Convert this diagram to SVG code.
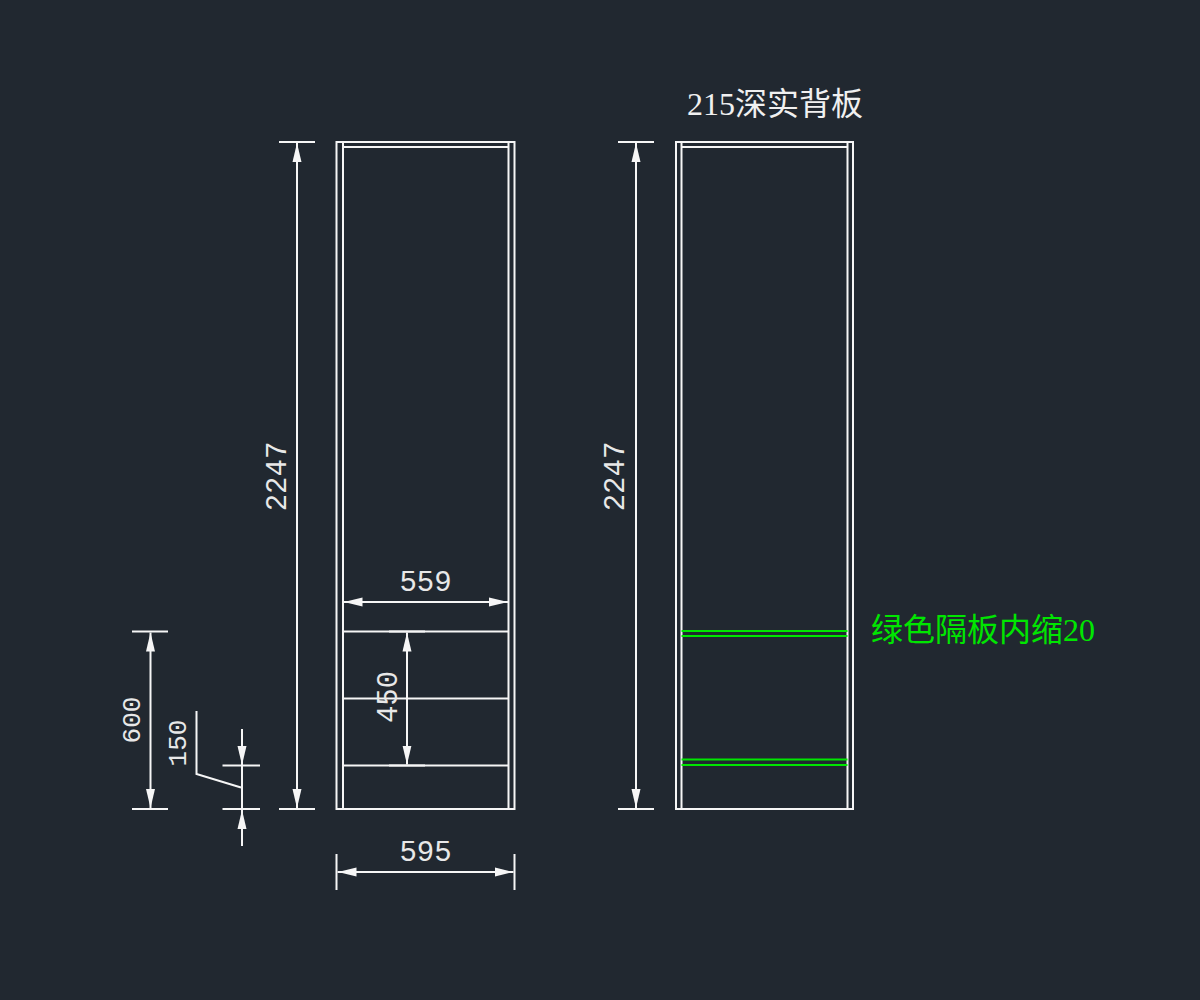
<svg xmlns="http://www.w3.org/2000/svg" width="1200" height="1000" viewBox="0 0 1200 1000">
<style>
.l{stroke:#f6f6f6;stroke-width:2;fill:none}
.g{stroke:#00e600;stroke-width:2;fill:none}
.a{fill:#f6f6f6;stroke:none}
.d{font-family:"Liberation Mono","DejaVu Sans Mono",monospace;font-size:29px;fill:#e8e8e8;text-anchor:middle}
.s{font-size:26px}
.t{font-family:"Liberation Serif","Noto Sans CJK SC",serif;font-size:32px}
</style>
<defs>
<marker id="ah" viewBox="0 0 19 10" refX="19" refY="5" markerWidth="19" markerHeight="10" markerUnits="userSpaceOnUse" orient="auto-start-reverse"><path class="a" d="M19 5L0 0.500V9.500Z"/></marker>
</defs>
<rect width="1200" height="1000" fill="#212830"/>
<g id="cabinet-left">
<path class="l" d="M336.500 142H514.500V809H336.500ZM343 142V809M508.500 142V809M343 147H508.500M343 631.500H508.500M343 698.500H508.500M343 765.500H508.500"/>
</g>
<g id="cabinet-right">
<path class="l" d="M676 142H853V809H676ZM681.500 142V809M847.500 142V809M681.500 147H847.500"/>
<path class="g" d="M681.500 631H847.500M681.500 636H847.500M681.500 759.500H847.500M681.500 765H847.500"/>
</g>
<g id="connectors">
<path class="l" d="M279 142H315M279 809H315"/>
<path class="l" d="M297 143V808" marker-start="url(#ah)" marker-end="url(#ah)"/>
<path class="l" d="M618 142H654M618 809H654"/>
<path class="l" d="M636 143V808" marker-start="url(#ah)" marker-end="url(#ah)"/>
<path class="l" d="M343.500 602H508" marker-start="url(#ah)" marker-end="url(#ah)"/>
<path class="l" d="M389 631.500H425M389 765.500H425"/>
<path class="l" d="M407 632.500V764.500" marker-start="url(#ah)" marker-end="url(#ah)"/>
<path class="l" d="M132 631.500H168M132 809H168"/>
<path class="l" d="M150.500 632.500V808" marker-start="url(#ah)" marker-end="url(#ah)"/>
<path class="l" d="M222.500 765.500H260M222.500 809H260"/>
<path class="l" d="M242 729V765" marker-end="url(#ah)"/>
<path class="l" d="M242 846V810" marker-end="url(#ah)"/>
<path class="l" d="M242 765V809"/>
<path class="l" d="M196.500 711V774L241 787.500"/>
<path class="l" d="M336.500 854V890M514.500 854V890"/>
<path class="l" d="M337.500 872H513.500" marker-start="url(#ah)" marker-end="url(#ah)"/>
</g>
<g id="labels">
<text class="d" transform="translate(286 476.500) rotate(-90)">2247</text>
<text class="d" transform="translate(624 476.500) rotate(-90)">2247</text>
<text class="d" x="425.500" y="591">559</text>
<text class="d" x="425.500" y="861">595</text>
<text class="d" transform="translate(396.500 697) rotate(-90)">450</text>
<text class="d s" transform="translate(140 720) rotate(-90)">600</text>
<text class="d s" transform="translate(186 743) rotate(-90)">150</text>
<text class="t" x="687" y="115" fill="#f0f0f0">215深实背板</text>
<text class="t" x="871" y="641" fill="#00e600">绿色隔板内缩20</text>
</g>
</svg>
